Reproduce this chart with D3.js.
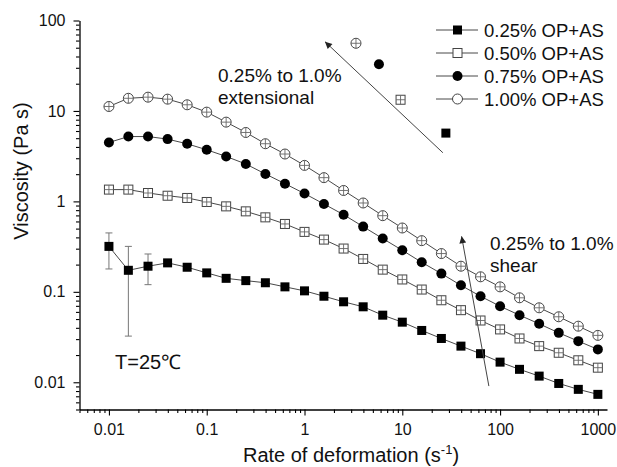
<!DOCTYPE html>
<html><head><meta charset="utf-8">
<script src="https://cdn.jsdelivr.net/npm/d3@7"></script>
<style>body{margin:0;background:#fff}text{font-family:"Liberation Sans",Arial,sans-serif;fill:#111}</style>
</head><body><svg id="c" width="617" height="467"></svg>
<script>
// ---- data ----
const rates = [0.01,0.0158,0.0251,0.0398,0.0631,0.1,0.158,0.251,0.398,0.631,1,1.58,2.51,3.98,6.31,10,15.8,25.1,39.8,63.1,100,158,251,398,631,1000];
const seriesNames = ["0.25% OP+AS","0.50% OP+AS","0.75% OP+AS","1.00% OP+AS"];
const visc025 = [0.318,0.173,0.192,0.209,0.187,0.162,0.141,0.133,0.126,0.1135,0.1025,0.0894,0.0776,0.0683,0.0552,0.0462,0.0374,0.0305,0.0251,0.0207,0.0167,0.0139,0.0117,0.0097,0.00835,0.00735];
const visc050 = [1.35,1.35,1.238,1.155,1.091,0.985,0.881,0.776,0.666,0.563,0.460,0.378,0.301,0.231,0.176,0.137,0.106,0.0807,0.0627,0.0482,0.0384,0.0305,0.0251,0.0212,0.0175,0.0145];
const visc075 = [4.48,5.21,5.21,4.88,4.33,3.72,3.14,2.59,2.01,1.57,1.22,0.936,0.713,0.526,0.388,0.288,0.212,0.159,0.118,0.0894,0.0693,0.0552,0.0443,0.0352,0.0285,0.0231];
const visc100 = [11.2,13.8,14.2,13.5,11.7,9.70,7.52,5.78,4.34,3.34,2.50,1.83,1.32,0.96,0.695,0.508,0.368,0.265,0.192,0.1466,0.1135,0.0859,0.0666,0.0530,0.0417,0.0330];
// error bars of 0.25% series (first three points)
const errRates = [0.01,0.0158,0.0251];
const errLow  = [0.179,0.0324,0.120];
const errHigh = [0.448,0.318,0.262];
// extensional viscosities
const extRates  = [27.9,9.6,5.77,3.36];
const extValues = [5.69,13.3,32.9,56];
const xTickLabels = ["0.01","0.1","1","10","100","1000"];
const yTickLabels = ["0.01","0.1","1","10","100"];
const markerTypes = ["fsq","osq","fci","oci"];

const svg = d3.select("#c");
const x = d3.scaleLog().domain([0.005,1240]).range([79.5,607]);
const y = d3.scaleLog().domain([0.005,100]).range([409.5,20.5]);

// ---- axes ----
const xMajor = xTickLabels.map(Number), yMajor = yTickLabels.map(Number);
const minorOf = (dom) => {
  const out=[]; for(let e=-3;e<=3;e++) for(let m=2;m<=9;m++){const v=m*Math.pow(10,e); if(v>=dom[0]*0.999&&v<=dom[1]) out.push(v);} return out;};
const gx = svg.append("g").attr("transform","translate(0,409.5)");
gx.call(d3.axisBottom(x).tickValues(xMajor).tickFormat((d,i)=>xTickLabels[i]).tickSize(6).tickPadding(8).tickSizeOuter(0));
gx.append("g").call(d3.axisBottom(x).tickValues(minorOf(x.domain())).tickFormat("").tickSize(3.5).tickSizeOuter(0)).select(".domain").remove();
const gy = svg.append("g").attr("transform","translate(79.5,0)");
gy.call(d3.axisLeft(y).tickValues(yMajor).tickFormat((d,i)=>yTickLabels[i]).tickSize(6).tickPadding(8).tickSizeOuter(0));
gy.append("g").call(d3.axisLeft(y).tickValues(minorOf(y.domain())).tickFormat("").tickSize(3.5).tickSizeOuter(0)).select(".domain").remove();
svg.selectAll(".domain").attr("stroke","#000").attr("stroke-width",1.3);
svg.selectAll(".tick line").attr("stroke","#000").attr("stroke-width",1.1);
svg.selectAll(".tick text").attr("font-size",16).attr("fill","#111").style("font-family","'Liberation Sans',Arial,sans-serif");

svg.append("text").attr("x",351).attr("y",462).attr("text-anchor","middle").attr("font-size",20)
  .html('Rate of deformation (s<tspan dy="-8" font-size="13">-1</tspan><tspan dy="8">)</tspan>');
svg.append("text").attr("transform","translate(27.5,171) rotate(-90)").attr("text-anchor","middle").attr("font-size",20).text("Viscosity (Pa s)");

// ---- marker helper ----
function marker(g, type, cx, cy, cross){
  const s=4.5;
  if(type==="fsq") g.append("rect").attr("x",cx-s).attr("y",cy-s).attr("width",2*s).attr("height",2*s).attr("fill","#000");
  if(type==="fci") g.append("circle").attr("cx",cx).attr("cy",cy).attr("r",5).attr("fill","#000");
  if(type==="osq"){
    g.append("rect").attr("x",cx-s).attr("y",cy-s).attr("width",2*s).attr("height",2*s).attr("fill","#fff").attr("stroke","#444").attr("stroke-width",1);
  }
  if(type==="oci"){
    g.append("circle").attr("cx",cx).attr("cy",cy).attr("r",5).attr("fill","#fff").attr("stroke","#444").attr("stroke-width",1);
  }
  if(cross && (type==="osq"||type==="oci")){
    const r = type==="oci"?5:s;
    g.append("line").attr("x1",cx-r).attr("x2",cx+r).attr("y1",cy).attr("y2",cy).attr("stroke","#666").attr("stroke-width",0.9);
    g.append("line").attr("x1",cx).attr("x2",cx).attr("y1",cy-r).attr("y2",cy+r).attr("stroke","#666").attr("stroke-width",0.9);
  }
}

// ---- series ----
const allSeries = [visc025,visc050,visc075,visc100];
const line = d3.line().x(d=>x(d[0])).y(d=>y(d[1]));
allSeries.forEach((vals,i)=>{
  svg.append("path").datum(rates.map((r,k)=>[r,vals[k]])).attr("d",line)
    .attr("fill","none").attr("stroke","#333").attr("stroke-width",0.9);
});
// error bars
const eg = svg.append("g").attr("stroke","#777").attr("stroke-width",1);
errRates.forEach((r,i)=>{
  eg.append("line").attr("x1",x(r)).attr("x2",x(r)).attr("y1",y(errLow[i])).attr("y2",y(errHigh[i]));
  [errLow[i],errHigh[i]].forEach(v=>eg.append("line").attr("x1",x(r)-3.5).attr("x2",x(r)+3.5).attr("y1",y(v)).attr("y2",y(v)));
});
allSeries.forEach((vals,i)=>{
  const g = svg.append("g");
  rates.forEach((r,k)=>marker(g,markerTypes[i],x(r),y(vals[k]),true));
});
// extensional points
const extG = svg.append("g");
extRates.forEach((r,i)=>marker(extG,markerTypes[i],x(r),y(extValues[i]),true));

// ---- arrows & annotations ----
const defs = svg.append("defs");
defs.append("marker").attr("id","ah").attr("viewBox","0 0 10 10").attr("refX",10).attr("refY",5)
  .attr("markerWidth",9).attr("markerHeight",7).attr("markerUnits","userSpaceOnUse").attr("orient","auto")
  .append("path").attr("d","M0,0 L10,5 L0,10 z").attr("fill","#222");
const arrows = [
  {from:[26.0,3.45], to:[1.62,58.3]},
  {from:[76.8,0.00908], to:[40.4,0.411]}
];
arrows.forEach(a=>{
  svg.append("line").attr("x1",x(a.from[0])).attr("y1",y(a.from[1])).attr("x2",x(a.to[0])).attr("y2",y(a.to[1]))
    .attr("stroke","#444").attr("stroke-width",1).attr("marker-end","url(#ah)");
});
function label(lines, px, py, fs){
  const t = svg.append("text").attr("x",px).attr("y",py).attr("font-size",fs);
  lines.forEach((l,i)=>t.append("tspan").attr("x",px).attr("dy",i?22:0).text(l));
}
label(["0.25% to 1.0%","extensional"],218,81.7,19);
label(["0.25% to 1.0%","shear"],490,249.5,19);
label(["T=25℃"],115,369,20);

// ---- legend ----
const lg = svg.append("g");
seriesNames.forEach((n,i)=>{
  const cy = 30 + i*23;
  lg.append("line").attr("x1",436).attr("x2",478).attr("y1",cy).attr("y2",cy).attr("stroke","#333").attr("stroke-width",0.9);
  marker(lg,markerTypes[i],457.5,cy,false);
  lg.append("text").attr("x",484).attr("y",cy+6.5).attr("font-size",18.5).text(n);
});
</script></body></html>
